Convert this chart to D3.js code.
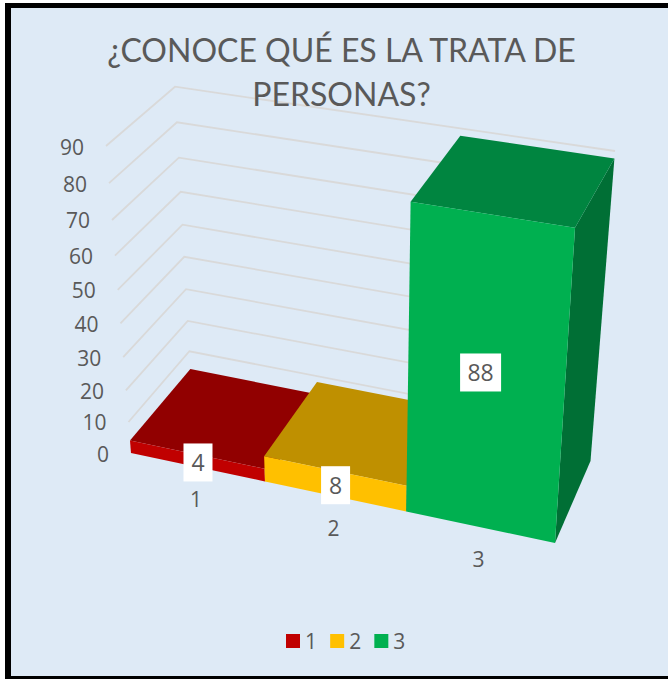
<!DOCTYPE html>
<html><head><meta charset="utf-8">
<script src="https://cdn.jsdelivr.net/npm/d3@7/dist/d3.min.js"></script>
<style>html,body{margin:0;padding:0;background:#fff}svg{display:block}text{font-family:"Open Sans",sans-serif;fill:#595959}text.ttl{font-family:Lato,sans-serif}</style>
</head><body><svg id="c" width="668" height="679"></svg>
<script>
const categories = [1, 2, 3];
const values = [4, 8, 88];
const yTicks = [0, 10, 20, 30, 40, 50, 60, 70, 80, 90];
const titleLines = ["¿CONOCE QUÉ ES LA TRATA DE", "PERSONAS?"];
const frontColors = ["#C00000", "#FFC000", "#00B050"];
const topColors = ["#910000", "#BF9000", "#008540"];
const sideColors = ["#6F0000", "#8F6C00", "#006F35"];

const svg = d3.select("#c");

// Perspective box: the category axis and the value axis are slightly foreshortened
const xFrac = d3.scaleLinear().domain([0, 1, 2, 3]).range([0, 0.316, 0.649, 1]);
const vFrac = d3.scaleLinear().domain(yTicks)
  .range([0, 0.101, 0.204, 0.312, 0.422, 0.531, 0.643, 0.759, 0.879, 1]);
const lerp = d3.interpolateNumber;
// frame corners: b/t = bottom/top, f/k = front/back, l/r = left/right
const box = {
  bfl: [131, 453], bfr: [555, 543], bkl: [191, 381], bkr: [590.5, 461],
  tfl: [106, 146], tfr: [575.5, 220], tkl: [175, 86.7], tkr: [615, 151]
};
function project(cat, val, depth) {
  const u = xFrac(cat), v = vFrac(val);
  return [0, 1].map(i => {
    const bf = lerp(box.bfl[i], box.bfr[i])(u), bk = lerp(box.bkl[i], box.bkr[i])(u);
    const tf = lerp(box.tfl[i], box.tfr[i])(u), tk = lerp(box.tkl[i], box.tkr[i])(u);
    return lerp(lerp(bf, tf)(v), lerp(bk, tk)(v))(depth);
  });
}
const line = d3.line();
const poly = pts => line(pts) + "Z";

// Background and frame
svg.append("rect").attr("x", 5).attr("y", 3).attr("width", 663).attr("height", 676).attr("fill", "#000");
svg.append("rect").attr("x", 11).attr("y", 8).attr("width", 657).attr("height", 668).attr("fill", "#DEEAF6");

// Gridlines (side wall + back wall)
svg.append("g").selectAll("path").data(yTicks).join("path")
  .attr("d", t => line([project(0, t, 0), project(0, t, 1), project(3, t, 1)]))
  .attr("fill", "none").attr("stroke", "#D9D9D9").attr("stroke-width", 1.8);

// Title
svg.append("g").selectAll("text").data(titleLines).join("text")
  .attr("class", "ttl")
  .attr("x", 341.5).attr("y", (d, i) => 62 + i * 44)
  .attr("text-anchor", "middle").attr("font-size", 32).text(d => d);

// Bars
const bars = svg.append("g").selectAll("g").data(categories).join("g");
bars.append("path").attr("fill", (d, i) => sideColors[i])
  .attr("d", (d, i) => poly([project(d, 0, 0), project(d, values[i], 0), project(d, values[i], 1), project(d, 0, 1)]));
bars.append("path").attr("fill", (d, i) => topColors[i])
  .attr("d", (d, i) => poly([project(d - 1, values[i], 0), project(d, values[i], 0), project(d, values[i], 1), project(d - 1, values[i], 1)]));
bars.append("path").attr("fill", (d, i) => frontColors[i])
  .attr("d", (d, i) => poly([project(d - 1, 0, 0), project(d, 0, 0), project(d, values[i], 0), project(d - 1, values[i], 0)]));

// Value axis labels
svg.append("g").selectAll("text").data(yTicks).join("text")
  .attr("x", t => project(0, t, 0)[0] - 22)
  .attr("y", t => project(0, t, 0)[1] + 8.5)
  .attr("text-anchor", "end").attr("font-size", 21).text(t => t);

// Category labels
svg.append("g").selectAll("text").data(categories).join("text")
  .attr("x", d => project(d - 0.5, 0, 0)[0] - 2)
  .attr("y", d => project(d - 0.5, 0, 0)[1] + 40)
  .attr("text-anchor", "middle").attr("font-size", 21).text(d => d);

// Data labels, centred on the visible front face
const dl = svg.append("g").selectAll("g").data(categories).join("g")
  .attr("transform", (d, i) => {
    const a = project(d - 0.5, 0, 0), b = project(d - 0.5, values[i], 0);
    return `translate(${a[0]},${(a[1] + b[1]) / 2 + 1.5})`;
  });
dl.append("rect")
  .attr("x", (d, i) => String(values[i]).length > 1 ? -20.5 : -14.5)
  .attr("width", (d, i) => String(values[i]).length > 1 ? 41 : 29)
  .attr("y", -19).attr("height", 38).attr("fill", "#fff");
dl.append("text").attr("y", 8.5).attr("text-anchor", "middle").attr("font-size", 23)
  .text((d, i) => values[i]);

// Legend
const lx = d3.scaleBand().domain(categories).range([286, 418.5]);
const lg = svg.append("g").selectAll("g").data(categories).join("g")
  .attr("transform", d => `translate(${lx(d)},634)`);
lg.append("rect").attr("width", 14).attr("height", 14).attr("fill", (d, i) => frontColors[i]);
lg.append("text").attr("x", 19).attr("y", 15).attr("font-size", 21).text(d => d);
</script></body></html>
